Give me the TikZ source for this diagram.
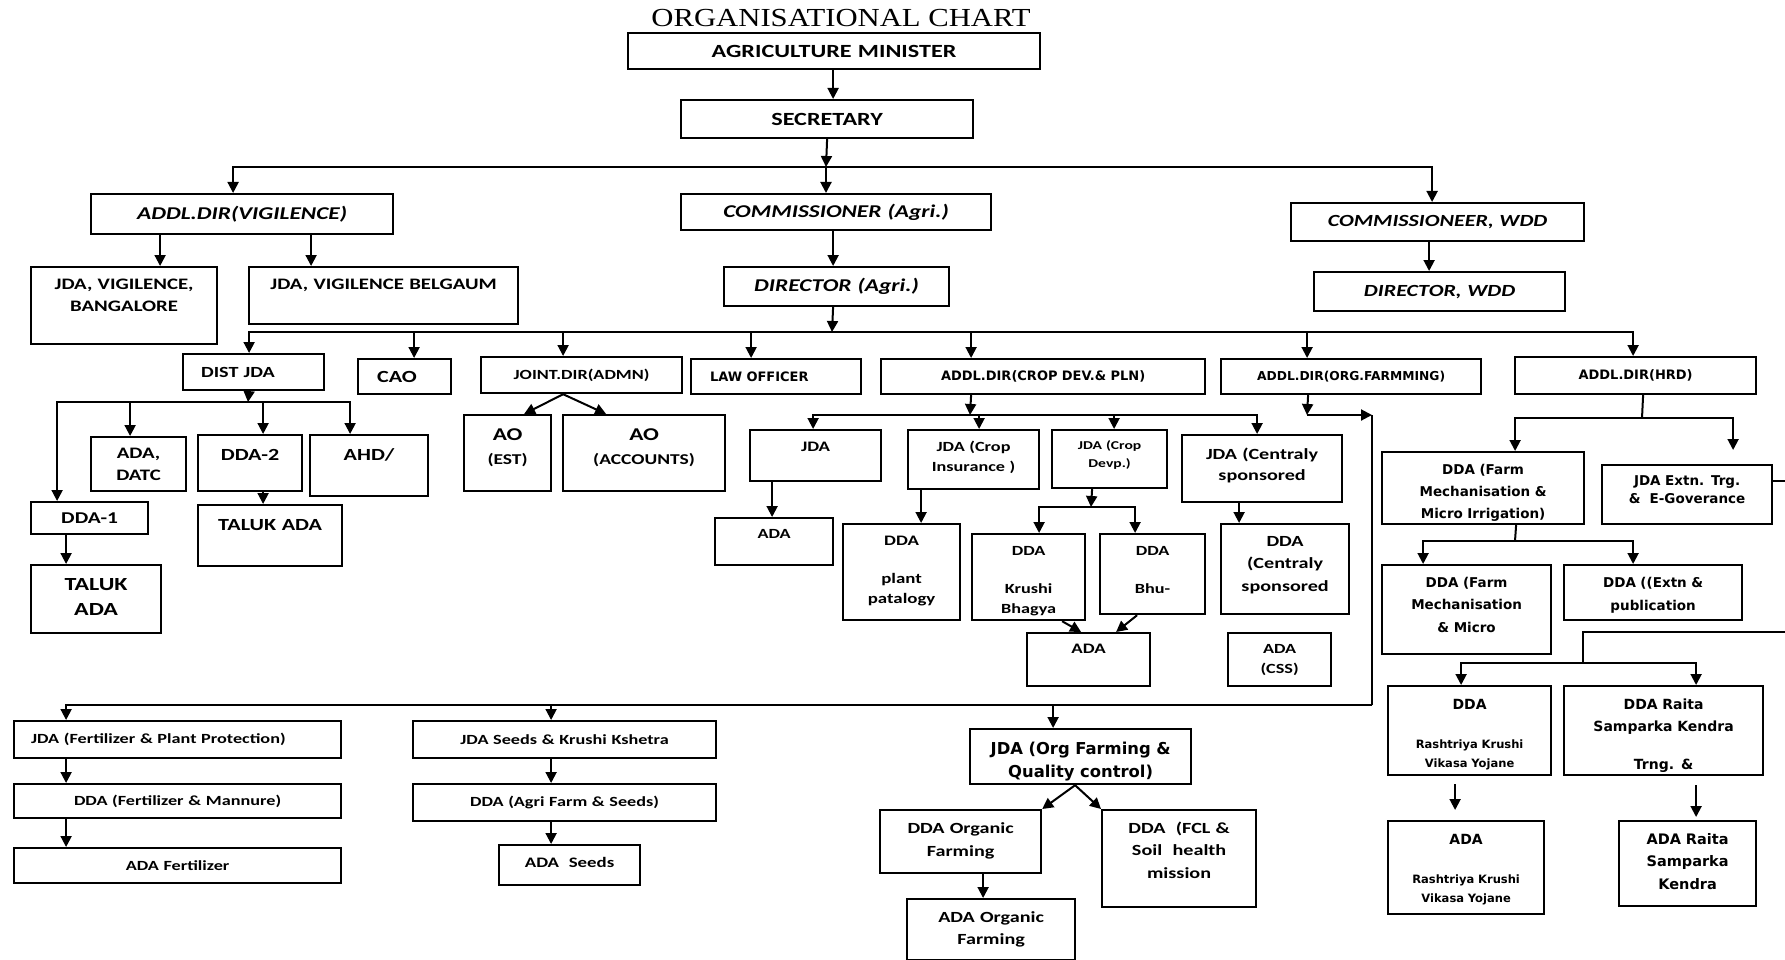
\documentclass[tikz,border=0pt]{standalone}
\usepackage{fontspec}
\usepackage{tikz}
\usetikzlibrary{positioning}
\usetikzlibrary{arrows.meta}
\newfontfamily\calf{Carlito}[FakeStretch=1.3]
\newfontfamily\verf{DejaVu Sans}
\newfontfamily\tmsf{Liberation Serif}[FakeStretch=1.18]
\tikzset {
  % plain office box
  box/.style = {draw, line width=2.2pt, inner sep=0pt, anchor=north west, align=center},
  % box with text in the middle: width, height
  bc/.style 2 args = {box, text width=#1pt, minimum height=#2pt},
  % box with text at the top: width, first baseline, rest of height
  bt/.style n args = {3}{box, text width=#1pt, text height=#2pt, text depth=#3pt},
  % fonts: size, line distance
  cal/.style 2 args = {font=\calf\bfseries\fontsize{#1}{#2}\selectfont},
  cali/.style 2 args = {font=\calf\bfseries\itshape\fontsize{#1}{#2}\selectfont},
  ver/.style 2 args = {font=\verf\bfseries\fontsize{#1}{#2}\selectfont},
}
\begin{document}
\begin{tikzpicture}[x=1pt, y=-1pt, line width=2pt, >={Triangle[width=11pt, length=11pt]}]
        \useasboundingbox (0,0) rectangle (1785,960);

        \node[font=\tmsf\fontsize{26}{30}\selectfont] (title) at (841,18) {ORGANISATIONAL CHART};
        \node[bc={412}{36}, cal={18.6}{22}] (minister) at (627,32) {AGRICULTURE MINISTER};
        \node[bc={292}{38}, cal={18.6}{22}] (secretary) at (680,99) {SECRETARY};

        \node[bc={302}{40}, cali={18}{22}] (vig) at (90,193) {ADDL.DIR(VIGILENCE)};
        \node[bc={310}{36}, cali={18}{22}] (comm) at (680,193) {COMMISSIONER (Agri.)};
        \node[bc={293}{38}, cali={17}{22}] (commwdd) at (1290,202) {COMMISSIONEER, WDD};
        \node[bc={251}{39}, cali={17}{22}] (dirwdd) at (1313,271) {DIRECTOR, WDD};
        \node[bc={225}{39}, cali={18}{22}] (diragri) at (723,266) {DIRECTOR (Agri.)};
        \node[bt={186}{22.5}{54.5}, cal={16}{22}] (jdavb) at (30,266) {JDA, VIGILENCE,\\BANGALORE};
        \node[bt={269}{22.5}{34.5}, cal={16}{22}] (jdavbg) at (248,266) {JDA, VIGILENCE BELGAUM};

        \node[bc={141}{36}, cal={15.5}{20}, align=left] (distjda) at (182,353) {\hspace*{18pt}DIST JDA};
        \node[bc={93}{35}, cal={17}{20}, align=left] (cao) at (357,358) {\hspace*{19pt}CAO};
        \node[bc={201}{36}, cal={14}{20}] (jointdir) at (480,356) {JOINT.DIR(ADMN)};
        \node[bc={170}{35}, ver={13}{18}, align=left] (lawoff) at (690,358) {\hspace*{19pt}LAW OFFICER};
        \node[bc={324}{35}, ver={13}{18}] (cropdev) at (880,358) {ADDL.DIR(CROP DEV.\& PLN)};
        \node[bc={260}{35}, ver={12.3}{18}] (orgfarm) at (1220,358) {ADDL.DIR(ORG.FARMMING)};
        \node[bc={241}{37}, ver={13}{18}] (hrd) at (1514,356) {ADDL.DIR(HRD)};

        \node[bc={95}{54}, cal={16}{22}] (adadatc) at (90,436) {ADA,\\DATC};
        \node[bt={104}{25}{31}, cal={17}{22}] (dda2) at (197,434) {DDA-2};
        \node[bt={118}{25}{36}, cal={17}{22}] (ahd) at (309,434) {AHD/};
        \node[bc={117}{32}, cal={16.5}{20}] (dda1) at (30,501) {DDA-1};
        \node[bt={144}{25.5}{35.5}, cal={17}{22}] (talukada2) at (197,504) {TALUK ADA};
        \node[bt={130}{25}{43}, cal={18.5}{25}] (talukada1) at (30,564) {TALUK\\ADA};
        \node[bt={87}{25}{51}, cal={18}{24}] (aoest) at (463,414) {AO\\{\fontsize{15}{24}\selectfont(EST)}};
        \node[bt={162}{25}{51}, cal={18}{24}] (aoacc) at (562,414) {AO\\{\fontsize{15}{24}\selectfont(ACCOUNTS)}};

        \node[bt={131}{21}{30}, cal={14.5}{20}] (jda1) at (749,429) {JDA};
        \node[bt={131}{21}{38}, cal={14}{20}] (jdaci) at (907,429) {JDA (Crop\\Insurance )};
        \node[bt={115}{19}{39}, cal={12}{18}] (jdacd) at (1051,429) {JDA (Crop\\Devp.)};
        \node[bt={160}{24}{43}, cal={15.5}{21.5}] (jdacs) at (1181,434) {JDA (Centraly\\sponsored};
        \node[bt={118}{20.5}{26.5}, cal={14}{20}] (ada1) at (714,517) {ADA};
        \node[bt={117}{21}{75}, cal={14.5}{19.5}] (ddapp) at (842,523) {DDA\\[19pt]plant\\patalogy};
        \node[bt={113}{21}{65}, cal={14}{20}] (ddakb) at (971,533) {DDA\\[18pt]Krushi\\Bhagya};
        \node[bt={105}{21}{59}, cal={14}{20}] (ddabhu) at (1099,533) {DDA\\[18pt]Bhu-};
        \node[bt={123}{20.5}{32.5}, cal={14.5}{20}] (adashared) at (1026,632) {ADA};
        \node[bt={128}{22}{68}, cal={15.5}{22.5}] (ddacs) at (1220,523) {DDA\\(Centraly\\sponsored};
        \node[bt={103}{20.5}{32.5}, cal={14}{20}] (adacss) at (1227,632) {ADA\\(CSS)};

        \node[bc={327}{37}, cal={14}{20}, align=left] (jdafpp) at (13,720) {\hspace*{17pt}JDA (Fertilizer \& Plant Protection)};
        \node[bc={327}{34}, cal={14}{20}] (ddafm) at (13,783) {DDA (Fertilizer \& Mannure)};
        \node[bc={327}{35}, cal={14}{20}] (adafert) at (13,847) {ADA Fertilizer};
        \node[bc={303}{37}, cal={14}{20}] (jdask) at (412,720) {JDA Seeds \& Krushi Kshetra};
        \node[bc={303}{37}, cal={14}{20}] (ddaafs) at (412,783) {DDA (Agri Farm \& Seeds)};
        \node[bt={141}{22}{18}, cal={14.5}{20}] (adaseeds) at (498,844) {ADA\ \ Seeds};

        \node[bt={221}{25}{30}, ver={16.4}{23}] (jdaofq) at (969,728) {JDA (Org Farming \&\\Quality control)};
        \node[bt={161}{23}{40}, cal={15.5}{23}] (ddaof) at (879,809) {DDA Organic\\Farming};
        \node[bt={154}{23}{74}, cal={15.5}{22.5}] (ddafcl) at (1101,809) {DDA\ \ (FCL \&\\Soil\ \ health\\mission};
        \node[bt={168}{23}{38}, cal={15.5}{22}] (adaof) at (906,898) {ADA Organic\\Farming};

        \node[bt={202}{22}{50}, ver={13.5}{22}] (ddafmmi) at (1381,451) {DDA (Farm\\Mechanisation \&\\Micro Irrigation)};
        \node[bt={170}{20}{39}, ver={13.5}{18}] (jdaextn) at (1601,464) {JDA Extn. Trg.\\\&\ \ E-Goverance};
        \node[bt={169}{22}{67}, ver={13.5}{22.5}] (ddafmm2) at (1381,564) {DDA (Farm\\Mechanisation\\\& Micro};
        \node[bt={178}{22}{33}, ver={13.5}{23}] (ddaextn) at (1563,564) {DDA ((Extn \&\\publication};
        \node[bt={163}{23}{66}, ver={11.5}{19}] (ddarkvy) at (1387,685) {{\fontsize{14}{19}\selectfont DDA}\\[20pt]Rashtriya Krushi\\Vikasa Yojane};
        \node[bt={199}{23}{66}, ver={14}{22}] (ddarsk) at (1563,685) {DDA Raita\\Samparka Kendra\\[16pt]Trng. \&};
        \node[bt={156}{23}{70}, ver={11.5}{19}] (adarkvy) at (1387,820) {{\fontsize{14}{19}\selectfont ADA}\\[20pt]Rashtriya Krushi\\Vikasa Yojane};
        \node[bt={137}{23}{62}, ver={14.5}{22.5}] (adarsk) at (1618,820) {ADA Raita\\Samparka\\Kendra};

        \coordinate (b1) at (826,167);
        \coordinate (b2) at (832,332);
        \coordinate (b3) at (248,402);
        \coordinate (b4) at (970,415);
        \coordinate (b5) at (1091,507);
        \coordinate (b6) at (1307,415);
        \coordinate (b7) at (1372,415);
        \coordinate (b8) at (1372,705);
        \coordinate (b9) at (1642,418);
        \coordinate (b10) at (1515,541);
        \coordinate (r1) at (1785,632);
        \coordinate (b11) at (1583,663);

        \draw [->] ([xshift=-1]minister.south) -- ([xshift=6]secretary.north);
        \draw [->] (secretary.south) -- (b1);
        \draw [->] (b1) -| ([xshift=-9]vig.north);
        \draw [->] (b1) -- (b1 |- comm.north);
        \draw [->] (b1) -| ([xshift=-5.5]commwdd.north);

        \draw [->] ([xshift=-82]vig.south) -- ([xshift=36]jdavb.north);
        \draw [->] ([xshift=69]vig.south) -- ([xshift=-72.5]jdavbg.north);
        \draw [->] ([xshift=-3]comm.south) -- ([xshift=-3.5]diragri.north);
        \draw [->] ([xshift=-8.5]commwdd.south) -- ([xshift=-10.5]dirwdd.north);

        \draw [->] ([xshift=-3.5]diragri.south) -- (b2);
        \draw [->] (b2) -| ([xshift=-4.5]distjda.north);
        \draw [->] (b2) -| ([xshift=9.5]cao.north);
        \draw [->] (b2) -| ([xshift=-18.5]jointdir.north);
        \draw [->] (b2) -| ([xshift=-25]lawoff.north);
        \draw [->] (b2) -| ([xshift=-72]cropdev.north);
        \draw [->] (b2) -| ([xshift=-44]orgfarm.north);
        \draw [->] (b2) -| ([xshift=-2.5]hrd.north);

        \draw [->] ([xshift=-4.5]distjda.south) -- (b3);
        \draw [->] (b3) -| ([xshift=-32.5]dda1.north);
        \draw [->] (b3) -| ([xshift=-8.5]adadatc.north);
        \draw [->] (b3) -| ([xshift=13]dda2.north);
        \draw [->] (b3) -| ([xshift=-19]ahd.north);
        \draw [->] ([xshift=13]dda2.south) -- ([xshift=-7]talukada2.north);
        \draw [->] ([xshift=-23.5]dda1.south) -- ([xshift=-30]talukada1.north);

        \draw [->] ([xshift=-18.5]jointdir.south) -- ([xshift=16.5]aoest.north);
        \draw [->] ([xshift=-18.5]jointdir.south) -- ([xshift=-38]aoacc.north);

        \draw [->] ([xshift=-72]cropdev.south) -- (b4);
        \draw [->] (b4) -| ([xshift=-2.5]jda1.north);
        \draw [->] (b4) -| ([xshift=5.5]jdaci.north);
        \draw [->] (b4) -| ([xshift=4.5]jdacd.north);
        \draw [->] (b4) -| ([xshift=-5]jdacs.north);
        \draw [->] ([xshift=-43.5]jda1.south) -- ([xshift=-2]ada1.north);
        \draw [->] ([xshift=-52.5]jdaci.south) -- ([xshift=19.5]ddapp.north);
        \draw [->] ([xshift=-17.5]jdacd.south) -- (b5);
        \draw [->] (b5) -| ([xshift=10.5]ddakb.north);
        \draw [->] (b5) -| ([xshift=-17.5]ddabhu.north);
        \draw [->] ([xshift=33.5]ddakb.south) -- ([xshift=-7.5]adashared.north);
        \draw [->] ([xshift=-15.5]ddabhu.south) -- ([xshift=27.5]adashared.north);
        \draw [->] ([xshift=-23]jdacs.south) -- ([xshift=-46]ddacs.north);

        \draw [->] ([xshift=-43]orgfarm.south) -- (b6);
        \draw [->] (b6) -- (b7);
        \draw (b7) -- (b8);
        \draw [->] (b8) -| ([xshift=-111.5]jdafpp.north);
        \draw [->] (b8) -| ([xshift=-13.5]jdask.north);
        \draw [->] (b8) -| ([xshift=-27.5]jdaofq.north);

        \draw [->] ([xshift=-111.5]jdafpp.south) -- ([xshift=-111.5]ddafm.north);
        \draw [->] ([xshift=-111.5]ddafm.south) -- ([xshift=-111.5]adafert.north);
        \draw [->] ([xshift=-13.5]jdask.south) -- ([xshift=-13.5]ddaafs.north);
        \draw [->] ([xshift=-13.5]ddaafs.south) -- ([xshift=-18.5]adaseeds.north);
        \draw [->] ([xshift=-5.5]jdaofq.south) -- (ddaof.north east);
        \draw [->] ([xshift=-5.5]jdaofq.south) -- (ddafcl.north west);
        \draw [->] ([xshift=22.5]ddaof.south) -- ([xshift=-8]adaof.north);

        \draw ([xshift=7.5]hrd.south) -- (b9);
        \draw [->] (b9) -| ([xshift=32]ddafmmi.north);
        \draw [->] (b9) -| ([xshift=46, yshift=14]jdaextn.north);
        \draw ([yshift=13.5]jdaextn.east) -- ++(14,0);
        \draw ([xshift=33]ddafmmi.south) -- (b10);
        \draw [->] (b10) -| ([xshift=-43.5]ddafmm2.north);
        \draw [->] (b10) -| ([xshift=-20]ddaextn.north);

        \draw (r1) -| (b11);
        \draw [->] (b11) -| ([xshift=-8.5]ddarkvy.north);
        \draw [->] (b11) -| ([xshift=32.5]ddarsk.north);
        \draw [->] ([xshift=-14.5, yshift=-8]ddarkvy.south) -- ([xshift=-11, yshift=10]adarkvy.north);
        \draw [->] ([xshift=32.5, yshift=-9]ddarsk.south) -- ([xshift=8.5, yshift=3]adarsk.north);

      \end{tikzpicture}
\end{document}
